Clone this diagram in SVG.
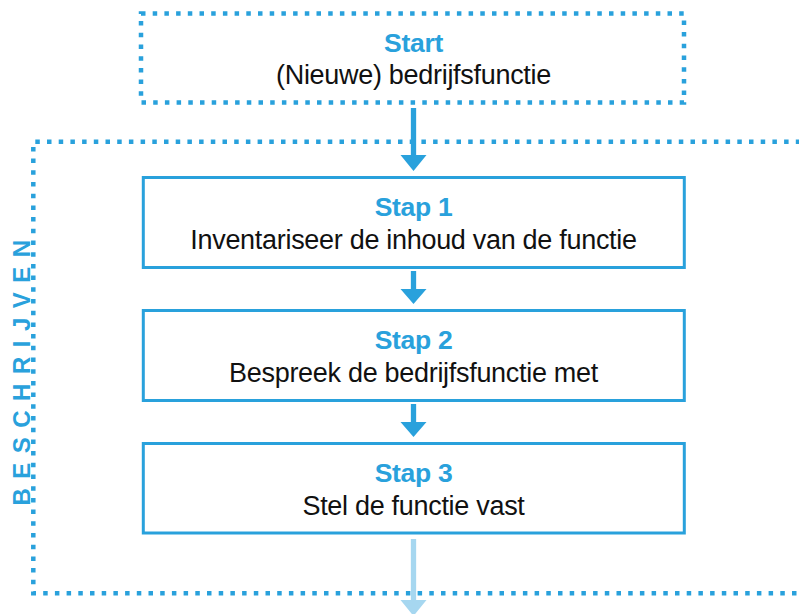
<svg xmlns="http://www.w3.org/2000/svg" width="799" height="614" viewBox="0 0 799 614">
<defs>
<style>
.dot{fill:none;stroke:#29A1DC;stroke-width:4.5;stroke-dasharray:4.5 7.2}
.box{fill:#fff;stroke:#29A1DC;stroke-width:3}
.ttl{font-family:"Liberation Sans",Arial,sans-serif;font-weight:bold;font-size:26.5px;letter-spacing:-0.3px;fill:#29A1DC;text-anchor:middle}
.txt{font-family:"Liberation Sans",Arial,sans-serif;font-size:27px;letter-spacing:-0.3px;fill:#111;text-anchor:middle}
.lbl{font-family:"Liberation Sans",Arial,sans-serif;font-weight:bold;font-size:24px;fill:#29A1DC;letter-spacing:9.5px}
.shaft{stroke:#29A1DC;stroke-width:5.3}
.head{fill:#29A1DC}
</style>
</defs>
<rect width="799" height="614" fill="#fff"/>
<g id="beschrijven">
<path class="dot" d="M812 141.7H33.3V593.3H812"/>
<text class="lbl" transform="translate(29.5 368) rotate(-90)" text-anchor="middle">BESCHRIJVEN</text>
</g>
<g id="connectors">
<line class="shaft" x1="413.5" y1="108" x2="413.5" y2="156"/>
<path class="head" d="M400.5 155H426.5L413.5 171Z"/>
<line class="shaft" x1="413.5" y1="271" x2="413.5" y2="290"/>
<path class="head" d="M400.5 289H426.5L413.5 304Z"/>
<line class="shaft" x1="413.5" y1="404" x2="413.5" y2="423"/>
<path class="head" d="M400.5 422H426.5L413.5 437Z"/>
<line x1="413.5" y1="539" x2="413.5" y2="601" stroke="#A6D7F0" stroke-width="5.3"/>
<path d="M400.5 600H426.5L413.5 616Z" fill="#A6D7F0"/>
</g>
<g id="start">
<rect class="dot" x="141" y="13.5" width="543" height="89"/>
<text class="ttl" x="413.5" y="52">Start</text>
<text class="txt" x="413.5" y="84">(Nieuwe) bedrijfsfunctie</text>
</g>
<g id="stap1">
<rect class="box" x="143.3" y="177.5" width="541" height="90"/>
<text class="ttl" x="413.5" y="216">Stap 1</text>
<text class="txt" x="413.5" y="249">Inventariseer de inhoud van de functie</text>
</g>
<g id="stap2">
<rect class="box" x="143.3" y="310.5" width="541" height="90"/>
<text class="ttl" x="413.5" y="349">Stap 2</text>
<text class="txt" x="413.5" y="382">Bespreek de bedrijfsfunctie met</text>
</g>
<g id="stap3">
<rect class="box" x="143.3" y="443.5" width="541" height="89.5"/>
<text class="ttl" x="413.5" y="482">Stap 3</text>
<text class="txt" x="413.5" y="515">Stel de functie vast</text>
</g>
</svg>
